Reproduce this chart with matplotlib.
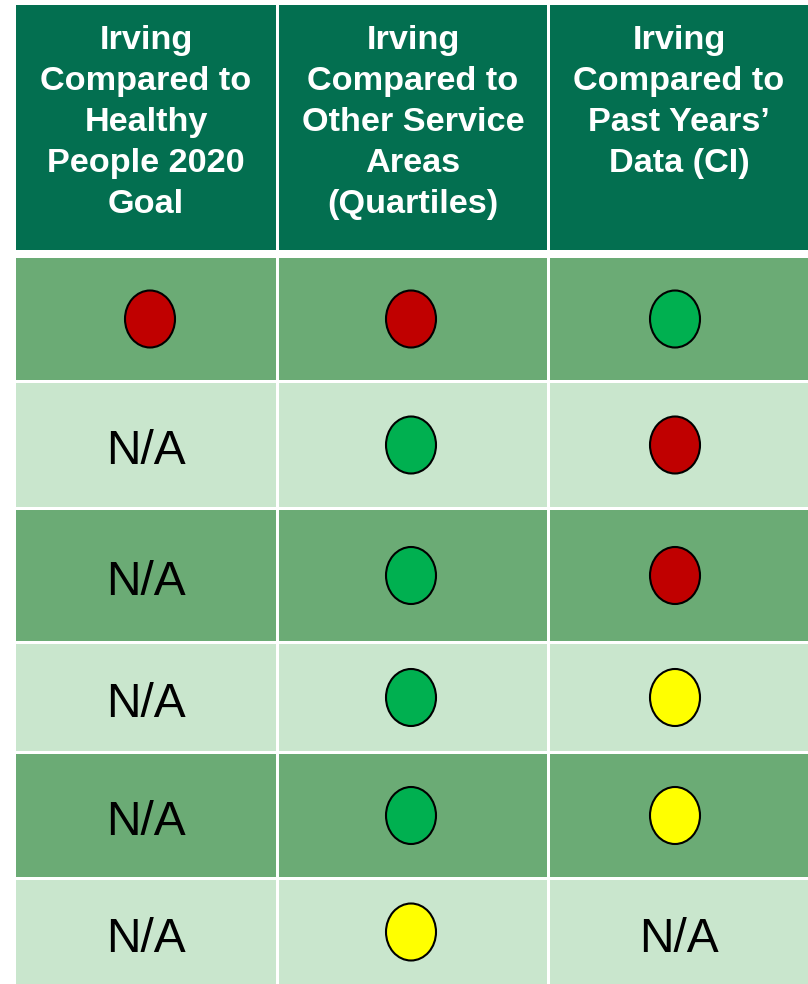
import matplotlib.pyplot as plt
from matplotlib.patches import Rectangle, Ellipse

# Table contents
headers = [
    'Irving\nCompared to\nHealthy\nPeople 2020\nGoal',
    'Irving\nCompared to\nOther Service\nAreas\n(Quartiles)',
    'Irving\nCompared to\nPast Years\u2019\nData (CI)',
]
hp2020 = ['red', 'N/A', 'N/A', 'N/A', 'N/A', 'N/A']
quartiles = ['red', 'green', 'green', 'green', 'green', 'yellow']
past_years = ['green', 'red', 'red', 'yellow', 'yellow', 'N/A']
columns = [hp2020, quartiles, past_years]

status_colors = {'red': '#C00000', 'green': '#00B050', 'yellow': '#FFFF00'}

# Layout (pixel units of the 808x984 canvas)
col_edges = [(16, 276), (279, 547), (550, 808)]
dot_shift = [4, -2, -4]
header_box = (5, 250)
row_edges = [(258, 380), (383, 507), (510, 641), (644, 751), (754, 877), (880, 984)]
row_fills = ['#6BAB75', '#C9E6CD']
header_fill = '#036F50'

fig = plt.figure(figsize=(8.08, 9.84), dpi=100)
ax = fig.add_axes([0, 0, 1, 1])
ax.set_xlim(0, 808)
ax.set_ylim(984, 0)
ax.axis('off')

for j, (x0, x1) in enumerate(col_edges):
    cx = (x0 + x1) / 2
    y0, y1 = header_box
    ax.add_patch(Rectangle((x0, y0), x1 - x0, y1 - y0, color=header_fill, lw=0))
    ax.text(cx, 25, headers[j], ha='center', va='top', color='white',
            fontsize=24.7, fontweight='bold', family='Liberation Sans',
            linespacing=1.42)
    for i, (r0, r1) in enumerate(row_edges):
        ax.add_patch(Rectangle((x0, r0), x1 - x0, r1 - r0,
                               color=row_fills[i % 2], lw=0))
        cy = (r0 + r1) / 2
        val = columns[j][i]
        if val == 'N/A':
            ax.text(cx, cy + 7, 'N/A', ha='center', va='center', color='black',
                    fontsize=34.5, family='Liberation Sans')
        else:
            ax.add_patch(Ellipse((cx + dot_shift[j], cy), 50, 57,
                                 facecolor=status_colors[val],
                                 edgecolor='black', lw=1.5))

fig.savefig('out.png', dpi=100)
